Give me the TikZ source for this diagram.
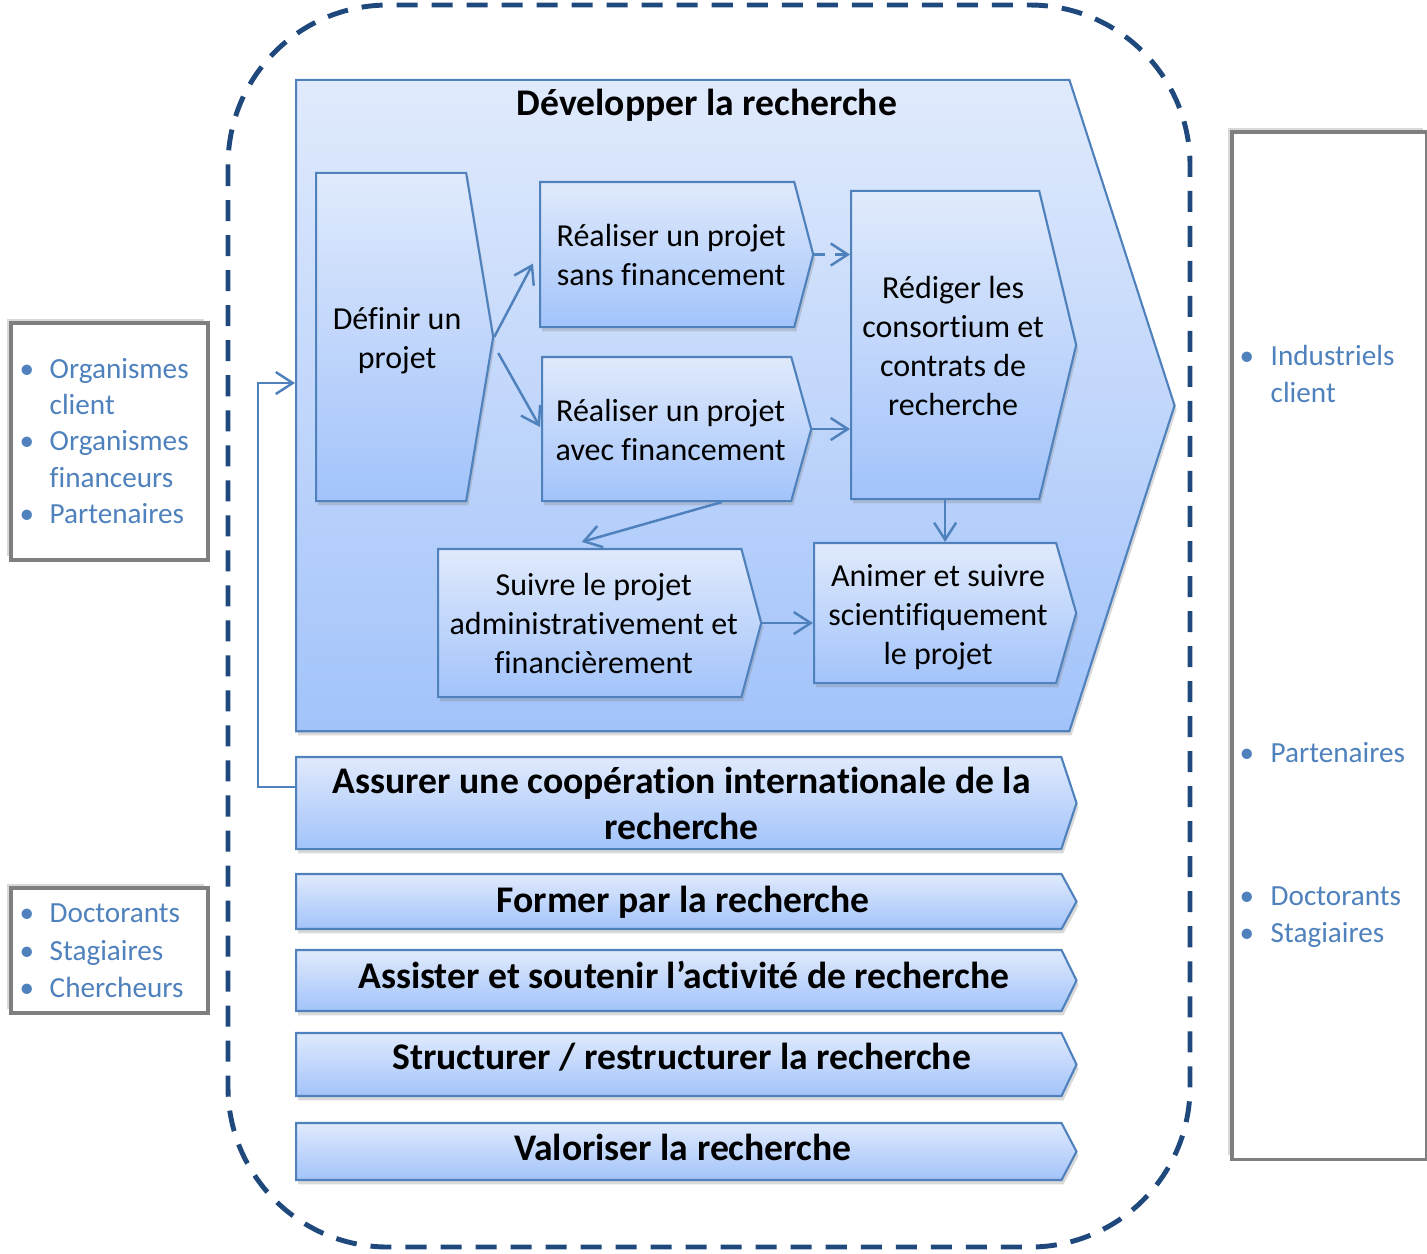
\documentclass[tikz,border=0pt]{standalone}
\usepackage{fontspec}
\setmainfont{Carlito}[Ligatures=NoCommon]
\usepackage{xcolor}
\usetikzlibrary{arrows.meta,positioning,calc,shapes.symbols,shadows}

\definecolor{dashblue}{RGB}{31,73,125}
\definecolor{accent}{RGB}{79,129,189}
\definecolor{gradtop}{RGB}{224,234,252}
\definecolor{gradbot}{RGB}{162,195,250}
\definecolor{boxgray}{RGB}{127,127,127}

% text block nudged inside a chevron (x offset, y offset)
\newcommand{\ctext}[3]{\hspace*{#1}\raisebox{\dimexpr#2-0.04cm\relax}[\height][\depth]{\begin{tabular}{@{}c@{}}#3\end{tabular}}\hspace*{-#1}}

\begin{document}
\begin{tikzpicture}[x=0.01cm,y=-0.01cm,
        proc/.style={signal, signal to=east, draw=accent, line width=0.6pt,
            top color=gradtop, bottom color=gradbot, inner sep=0pt, align=center,
            font=\fontsize{9.1}{11.1}\selectfont,
            drop shadow={shadow xshift=0.6pt,shadow yshift=-1.2pt,opacity=0.3}},
        bar/.style={proc, minimum width=7.8cm, anchor=west,
            font=\bfseries\fontsize{10.7}{13.1}\selectfont},
        flow/.style={-{Straight Barb[length=1.7mm,width=2.2mm]}, accent, line width=0.7pt},
        listbox/.style={draw=boxgray, line width=1.1pt, fill=white, anchor=north west,
            drop shadow={shadow xshift=-1.2pt,shadow yshift=1.2pt,opacity=0.3}},
        listtxt/.style={text=accent, font=\fontsize{8.3}{10.4}\selectfont, inner sep=0pt, anchor=base west},
        dot/.style={listtxt, anchor=base}]
    \useasboundingbox (0,0) rectangle (1427,1253);

    % Dashed frame round the activities
    \draw[dashblue, line width=1.4pt, dash pattern=on 0.21cm off 0.14cm, rounded corners=1.6cm]
        (228,5) rectangle (1190,1247);

    % Main chevron
    \node[proc, minimum width=8.78cm, minimum height=6.51cm, signal pointer angle=144.2, anchor=west] (dev) at (295,405.5) {};
    \node[font=\bfseries\fontsize{10.7}{13.1}\selectfont] (title) at (707,105) {Développer la recherche};

    % Steps of a project
    \node[proc, minimum width=1.77cm, minimum height=3.28cm, signal pointer angle=161.3, anchor=west] (defin) at (315,337)
        {\ctext{0.06cm}{0cm}{Définir un\\projet}};
    \node[proc, minimum width=2.73cm, minimum height=1.45cm, signal pointer angle=150.7, anchor=west] (sans) at (539,254.5)
        {\ctext{0.04cm}{0cm}{Réaliser un projet\\sans financement}};
    \node[proc, minimum width=2.69cm, minimum height=1.44cm, signal pointer angle=149, anchor=west] (avec) at (541,429)
        {\ctext{0.04cm}{0cm}{Réaliser un projet\\avec financement}};
    \node[proc, minimum width=2.25cm, minimum height=3.08cm, signal pointer angle=153, anchor=west] (redig) at (850,345)
        {\ctext{0.08cm}{0cm}{Rédiger les\\consortium et\\contrats de\\recherche}};
    \node[proc, minimum width=3.23cm, minimum height=1.48cm, signal pointer angle=150, anchor=west] (suivre) at (437,623)
        {\ctext{0.04cm}{0cm}{Suivre le projet\\administrativement et\\financièrement}};
    \node[proc, minimum width=2.62cm, minimum height=1.40cm, signal pointer angle=148, anchor=west] (animer) at (813,613)
        {\ctext{0.03cm}{-0.01cm}{Animer et suivre\\scientifiquement\\le projet}};

    \draw[flow] (defin.east) -- ([shift={(-6,9)}]sans.west);
    \draw[flow] ([shift={(4,16)}]defin.east) -- ([shift={(-1,-2)}]avec.west);
    \draw[flow, dashed] (sans.east) -- (redig.west |- sans.east);
    \draw[flow] (avec.east) -- (redig.west |- avec.east);
    \draw[flow] ([shift={(55,0)}]avec.south) -- ([shift={(-8,-6)}]suivre.north);
    \draw[flow] (redig.south) -- (redig.south |- animer.north);
    \draw[flow] (suivre.east) -- (animer.west |- suivre.east);

    % Other activities
    \node[bar, minimum height=0.91cm, signal pointer angle=143.4] (coop) at (295,803)
        {\ctext{0.03cm}{0cm}{Assurer une coopération internationale de la\\recherche}};
    \node[bar, minimum height=0.55cm, signal pointer angle=122.8] (former) at (295,901.5)
        {\ctext{0.045cm}{0.02cm}{Former par la recherche}};
    \node[bar, minimum height=0.61cm, signal pointer angle=127.7] (assist) at (295,980.5)
        {\ctext{0.05cm}{0.05cm}{Assister et soutenir l’activité de recherche}};
    \node[bar, minimum height=0.63cm, signal pointer angle=129.0] (struct) at (295,1064.5)
        {\ctext{0.03cm}{0.08cm}{Structurer / restructurer la recherche}};
    \node[bar, minimum height=0.57cm, signal pointer angle=124.5] (valor) at (295,1151.5)
        {\ctext{0.04cm}{0.04cm}{Valoriser la recherche}};

    \draw[flow] ([shift={(0,-16)}]coop.west) -- ++(-37,0) |- ([shift={(0,-22.5)}]dev.west);

    % Actors
    \node[listbox, minimum width=1.97cm, minimum height=2.37cm] (orgbox) at (9,321) {};
    \node[listbox, minimum width=1.97cm, minimum height=1.25cm] (docbox) at (9,886) {};
    \node[listbox, minimum width=1.95cm, minimum height=10.27cm] (extbox) at (1230,130) {};

    \foreach \n/\yy/\txt in {a/378/Organismes, b/414/client, c/450/Organismes, d/487/financeurs, e/523/Partenaires,
            f/922/Doctorants, g/960/Stagiaires, h/997/Chercheurs}
        \node[listtxt] (lt\n) at (49,\yy) {\txt};
    \foreach \n/\yy in {a/378, c/450, e/523, f/922, g/960, h/997}
        \node[dot] (ld\n) at (27,\yy) {•};

    \foreach \n/\yy/\txt in {a/365/Industriels, b/402/client, c/762/Partenaires, d/905/Doctorants, e/942/Stagiaires}
        \node[listtxt] (rt\n) at (1270,\yy) {\txt};
    \foreach \n/\yy in {a/365, c/762, d/905, e/942}
        \node[dot] (rd\n) at (1247,\yy) {•};
\end{tikzpicture}
\end{document}
